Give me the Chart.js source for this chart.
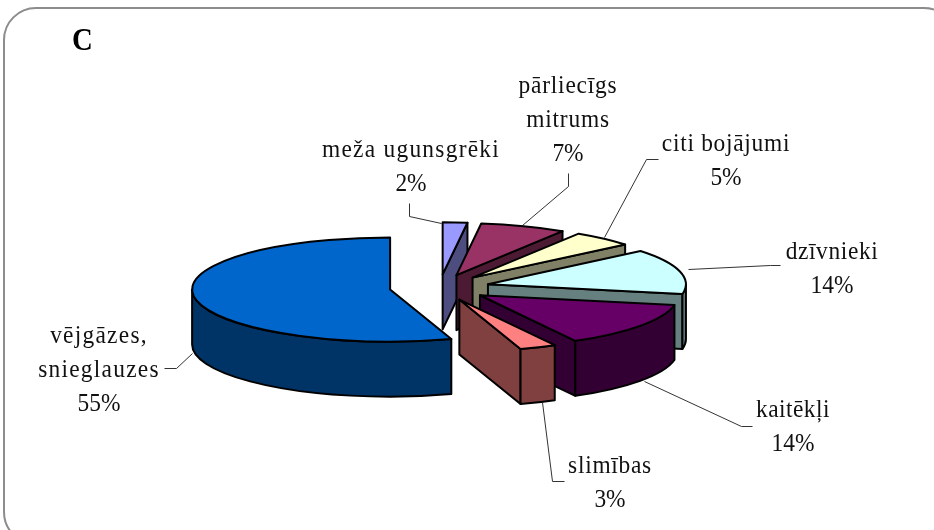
<!DOCTYPE html>
<html>
<head>
<meta charset="utf-8">
<style>html,body{margin:0;padding:0;background:#fff}canvas{display:block}</style>
<script src="https://cdn.jsdelivr.net/npm/chart.js@4"></script>
</head>
<body>
<canvas id="c" width="934" height="530"></canvas>
<script>
const categories = ['meža ugunsgrēki','pārliecīgs mitrums','citi bojājumi','dzīvnieki','kaitēkļi','slimības','vējgāzes, snieglauzes'];
const values = [2,7,5,14,14,3,55];
const topColors = ['#9999FF','#993366','#FFFFCC','#CCFFFF','#660066','#FF8080','#0066CC'];
const wallColors = ['#4D4D80','#4D1A33','#808066','#668080','#330033','#804040','#003366'];
const labelLines = [['meža ugunsgrēki','2%'],['pārliecīgs','mitrums','7%'],['citi bojājumi','5%'],['dzīvnieki','14%'],['kaitēkļi','14%'],['slimības','3%'],['vējgāzes,','snieglauzes','55%']];
const labelAnchors = [[411,157],[568,93],[726,151],[832,259],[793,417],[610,473],[99,343]];
const labelSpacing = [1.4,0.9,0.8,0.7,0.5,0.8,1.4];
const leaders = [
 [[409,203],[409,216],[441,223]],
 [[568,173],[568,186],[522,225]],
 [[658,159],[646,159],[604,237]],
 [[780,265],[770,265],[688,269]],
 [[752,426],[741,426],[644,381]],
 [[564,481],[552,481],[542,402]],
 [[164,368],[176,368],[192,353]]
];
const SQUASH = 0.263, DEPTH = 55, EXPLODE = 50;

const pie3d = {
  id: 'pie3d',
  beforeDraw(chart) {
    const ctx = chart.ctx;
    ctx.save();
    ctx.fillStyle = '#fff';
    ctx.fillRect(0,0,934,530);
    ctx.strokeStyle = '#8c8c8c';
    ctx.lineWidth = 2;
    ctx.beginPath();
    ctx.roundRect(4,8,952,536,32);
    ctx.stroke();
    ctx.fillStyle = '#000';
    ctx.font = 'bold 32px "Liberation Serif"';
    ctx.textAlign = 'left';
    ctx.translate(72,50);
    ctx.scale(0.9,1);
    ctx.fillText('C',0,0);
    ctx.restore();
  },
  beforeDatasetsDraw(chart) {
    const ctx = chart.ctx;
    const arcs = chart.getDatasetMeta(0).data;
    ctx.save();
    ctx.strokeStyle = '#333';
    ctx.lineWidth = 1;
    leaders.forEach(l => {
      ctx.beginPath();
      l.forEach((p,i)=> i ? ctx.lineTo(p[0]+.5,p[1]+.5) : ctx.moveTo(p[0]+.5,p[1]+.5));
      ctx.stroke();
    });
    ctx.restore();
    arcs.forEach((a,i) => {
      const R = a.outerRadius, s = a.startAngle, e = a.endAngle, mid = (s+e)/2;
      const ax = a.x + Math.cos(mid)*EXPLODE;
      const ay = a.y + Math.sin(mid)*EXPLODE*SQUASH;
      const pt = t => [ax+Math.cos(t)*R, ay+Math.sin(t)*R*SQUASH];
      ctx.save();
      ctx.lineJoin = 'round';
      ctx.lineWidth = 2;
      ctx.strokeStyle = '#000';
      ctx.fillStyle = wallColors[i];
      // radial faces that look towards the viewer
      [[s,false],[e,true]].forEach(([t,isEnd])=>{
        const th = t+Math.PI/2;
        const visible = isEnd ? Math.sin(th)>0.001 : Math.sin(th)<-0.001;
        if(!visible) return;
        const p = pt(t);
        ctx.beginPath();
        ctx.moveTo(ax,ay);ctx.lineTo(p[0],p[1]);ctx.lineTo(p[0],p[1]+DEPTH);ctx.lineTo(ax,ay+DEPTH);ctx.closePath();
        ctx.fill();ctx.stroke();
      });
      // outer curved wall, front half only
      const lo = Math.max(s, 0), hi = Math.min(e, Math.PI);
      if (hi>lo) {
        const p1 = pt(hi);
        ctx.beginPath();
        ctx.ellipse(ax,ay,R,R*SQUASH,0,lo,hi,false);
        ctx.lineTo(p1[0],p1[1]+DEPTH);
        ctx.ellipse(ax,ay+DEPTH,R,R*SQUASH,0,hi,lo,true);
        ctx.closePath();
        ctx.fill();ctx.stroke();
      }
      // top surface drawn by the library's arc element
      ctx.save();
      ctx.translate(ax,ay);
      ctx.scale(1,SQUASH);
      ctx.translate(-a.x,-a.y);
      a.draw(ctx);
      ctx.restore();
      ctx.beginPath();
      ctx.moveTo(ax,ay);
      ctx.ellipse(ax,ay,R,R*SQUASH,0,s,e,false);
      ctx.closePath();
      ctx.stroke();
      ctx.restore();
    });
    return false;
  },
  afterDraw(chart) {
    const ctx = chart.ctx;
    ctx.save();
    ctx.fillStyle = '#111';
    ctx.font = '26px "Liberation Serif"';
    ctx.textAlign = 'center';
    labelLines.forEach((lines,i)=>{
      lines.forEach((t,j)=>{
        ctx.save();
        ctx.letterSpacing = (j===lines.length-1 ? 0 : labelSpacing[i])+'px';
        ctx.translate(labelAnchors[i][0],labelAnchors[i][1]+j*34);
        ctx.scale(0.9,1);
        ctx.fillText(t,0,0);
        ctx.restore();
      });
    });
    ctx.restore();
  }
};

new Chart(document.getElementById('c'),{
  type:'pie',
  data:{labels:categories,datasets:[{data:values,backgroundColor:topColors,borderWidth:0,radius:198}]},
  options:{
    responsive:false,animation:false,
    layout:{padding:{left:0,right:55,top:45,bottom:0}},
    plugins:{legend:{display:false},tooltip:{enabled:false}}
  },
  plugins:[pie3d]
});
</script>
</body>
</html>
